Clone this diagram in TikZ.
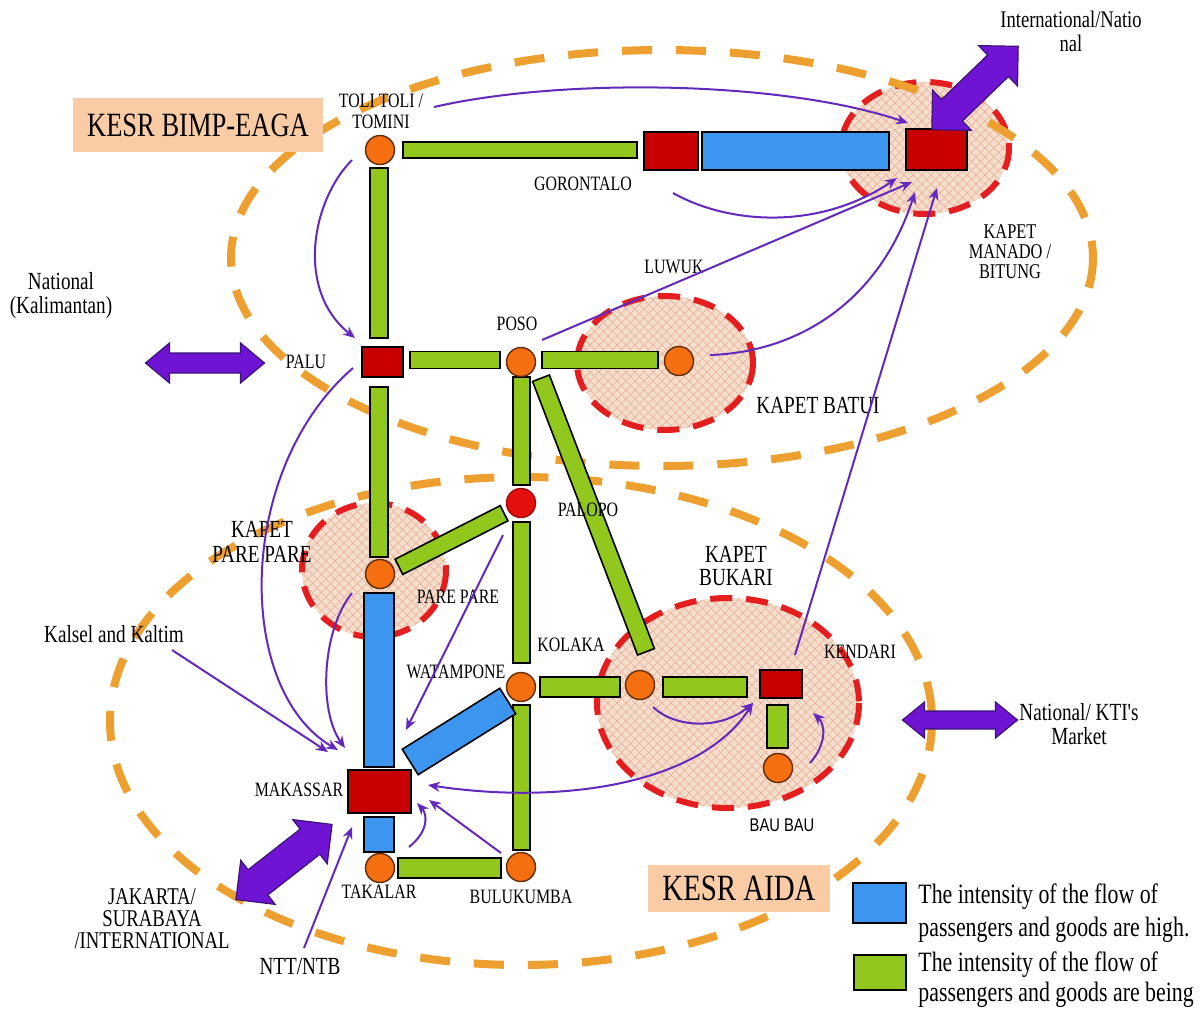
\documentclass[tikz,border=0pt]{standalone}
\usepackage{fontspec}
\setmainfont{Liberation Serif}
\newfontfamily\labf[FakeStretch=0.78]{Liberation Serif}
\newfontfamily\labs[FakeStretch=0.8]{Liberation Sans}
\usetikzlibrary{arrows.meta}
\definecolor{orng}{RGB}{237,160,48}
\definecolor{reddsh}{RGB}{228,30,30}
\definecolor{peachf}{RGB}{246,222,205}
\definecolor{hatchc}{RGB}{232,172,148}
\definecolor{grn}{RGB}{146,200,30}
\definecolor{blu}{RGB}{60,150,240}
\definecolor{redsq}{RGB}{200,0,0}
\definecolor{orc}{RGB}{245,110,15}
\definecolor{palred}{RGB}{230,15,15}
\definecolor{purp}{RGB}{100,40,190}
\definecolor{arrfill}{RGB}{110,20,210}
\definecolor{arrline}{RGB}{60,20,120}
\definecolor{boxpeach}{RGB}{250,204,166}
\newcommand\hatchell[4]{%
  \begin{scope}
    \clip (#1,#2) ellipse [x radius=#3, y radius=#4];
    \fill[peachf] (#1,#2) ellipse [x radius=#3, y radius=#4];
    \foreach \k in {-300,-291,...,300} {
      \draw[hatchc,line width=0.3pt] (#1+\k-170,#2-170) -- (#1+\k+170,#2+170);
      \draw[hatchc,line width=0.3pt] (#1+\k-170,#2+170) -- (#1+\k+170,#2-170);
    }
  \end{scope}
  \draw[reddsh,line width=3pt,dash pattern=on 11pt off 7pt] (#1,#2) ellipse [x radius=#3, y radius=#4];
}
\tikzset{
  pics/dblarr/.style n args={4}{code={%
    \draw[fill=arrfill,draw=arrline,line width=0.6pt,line join=miter]
      (-#1/2,0) -- (-#1/2+#4,#3) -- (-#1/2+#4,#2) -- (#1/2-#4,#2) -- (#1/2-#4,#3)
      -- (#1/2,0) -- (#1/2-#4,-#3) -- (#1/2-#4,-#2) -- (-#1/2+#4,-#2) -- (-#1/2+#4,-#3) -- cycle;
  }}
}
\begin{document}
\begin{tikzpicture}[x=0.5pt,y=-0.5pt,
  gbar/.style={draw=black,line width=0.8pt,fill=grn,inner sep=0pt,outer sep=0pt},
  bbar/.style={gbar,fill=blu},
  rsq/.style={gbar,fill=redsq},
  city/.style={circle,draw=black!60!orc,line width=0.7pt,fill=orc,minimum size=14.5pt,inner sep=0pt,outer sep=0pt},
  lbl/.style={font=\labf\fontsize{10.2}{10.5}\selectfont,inner sep=0pt,align=center,text=black},
  biglbl/.style={font=\labf\fontsize{12.3}{12}\selectfont,inner sep=0pt,align=center},
  extlbl/.style={font=\labf\fontsize{12.3}{12}\selectfont,inner sep=0pt,align=center},
  kesrbox/.style={fill=boxpeach,inner sep=0pt},
  legtxt/.style={font=\labf\fontsize{14}{16.5}\selectfont,inner sep=0pt,anchor=west,align=left},
  odash/.style={draw=orng,line width=4pt,dash pattern=on 15pt off 12pt},
  flow/.style={draw=purp,line width=1pt,-{Stealth[length=6pt,width=5pt]}},
  flow2/.style={draw=purp,line width=1pt,{Stealth[length=6pt,width=5pt]}-{Stealth[length=6pt,width=5pt]}}
]
\useasboundingbox (0,0) rectangle (1200,1008);
\fill[white] (0,0) rectangle (1200,1008);

% KAPET zones
\hatchell{925}{148}{84}{66}
\hatchell{665}{363}{88}{67}
\hatchell{374}{570}{72}{67}
\hatchell{728}{703}{131}{105}

% KESR zones
\draw[odash] (662,258) ellipse [x radius=431, y radius=208];
\draw[odash] (521,721) ellipse [x radius=411, y radius=244];

% zone labels
\node[kesrbox,minimum width=125pt,minimum height=27pt,font=\labf\fontsize{17}{17}\selectfont] (kesrA) at (198,125) {KESR BIMP-EAGA};
\node[kesrbox,minimum width=91pt,minimum height=23.5pt,font=\labf\fontsize{18.5}{18}\selectfont] (kesrB) at (739,888.5) {KESR AIDA};

% green links
\node[gbar,minimum width=117pt,minimum height=8pt] (g1) at (520,150) {};
\node[gbar,minimum width=9pt,minimum height=85pt] (g2) at (379,253) {};
\node[gbar,minimum width=45pt,minimum height=8.5pt] (g3) at (455,360) {};
\node[gbar,minimum width=58pt,minimum height=8.5pt] (g4) at (600,360) {};
\node[gbar,minimum width=9pt,minimum height=85pt] (g5) at (379,472) {};
\node[gbar,minimum width=8.5pt,minimum height=54pt] (g6) at (521.5,431) {};
\node[gbar,minimum width=8.5pt,minimum height=70.5pt] (g7) at (521.5,592.5) {};
\node[gbar,minimum width=40pt,minimum height=10pt] (g8) at (580,687) {};
\node[gbar,minimum width=42pt,minimum height=10pt] (g9) at (705,687) {};
\node[gbar,minimum width=10.5pt,minimum height=21.5pt] (g10) at (777.5,726.5) {};
\node[gbar,minimum width=8.5pt,minimum height=72.5pt] (g11) at (521.5,777.5) {};
\node[gbar,minimum width=51.5pt,minimum height=10pt] (g12) at (449.5,868) {};
\node[gbar,minimum width=59pt,minimum height=8.5pt,rotate=27] (g13) at (451.5,540) {};
\node[gbar,minimum width=146.5pt,minimum height=9pt,rotate=-69] (g14) at (593.5,515) {};

% blue links
\node[bbar,minimum width=93.5pt,minimum height=19pt] (b1) at (795.5,151) {};
\node[bbar,minimum width=15pt,minimum height=87pt] (b2) at (379,680) {};
\node[bbar,minimum width=15pt,minimum height=17.5pt] (b3) at (379,834.5) {};
\node[bbar,minimum width=57.5pt,minimum height=15pt,rotate=32] (b4) at (459,731.5) {};

% main centres
\node[rsq,minimum width=27pt,minimum height=19pt] (gorontalo) at (671,151) {};
\node[rsq,minimum width=30.5pt,minimum height=20.5pt] (manado) at (936.5,149.5) {};
\node[rsq,minimum width=20.5pt,minimum height=15pt] (palu) at (382.5,362) {};
\node[rsq,minimum width=31.5pt,minimum height=21.5pt] (makassar) at (379.5,791.5) {};
\node[rsq,minimum width=21pt,minimum height=14pt] (kendari) at (781,684) {};

% towns
\node[city] (toli) at (380,150) {};
\node[city] (poso) at (521,362) {};
\node[city] (batui) at (679,361) {};
\node[city] (pare) at (380,574) {};
\node[city] (watampone) at (521,687) {};
\node[city] (kolaka) at (640,685) {};
\node[city] (baubau) at (778,768) {};
\node[city] (takalar) at (380,868) {};
\node[city] (bulukumba) at (521,867) {};
\node[city,fill=palred,draw=palred!70!black] (palopo) at (521,503) {};

% big double arrows
\pic (arrKal) at (205,363) {dblarr={119}{10}{20}{24}};
\pic (arrKTI) at (960,720) {dblarr={115}{9}{18}{22}};
\pic[rotate=44] (arrInt) at (975,88) {dblarr={120}{15}{28}{28}};
\pic[rotate=38] (arrJkt) at (284,862) {dblarr={122}{16}{28}{28}};

% labels
\node[lbl] (tTol) at (381,111.5) {TOLI TOLI /\\TOMINI};
\node[lbl] (tGor) at (583,184) {GORONTALO};
\node[lbl] (tPalu) at (306,362) {PALU};
\node[lbl] (tPoso) at (517,324) {POSO};
\node[lbl] (tLuwuk) at (674,267) {LUWUK};
\node[lbl] (tPalopo) at (588,510) {PALOPO};
\node[lbl] (tPare) at (458,597) {PARE PARE};
\node[lbl] (tKolaka) at (571,645) {KOLAKA};
\node[lbl] (tWat) at (456,672) {WATAMPONE};
\node[lbl] (tKen) at (860,652) {KENDARI};
\node[lbl] (tMak) at (299,790) {MAKASSAR};
\node[lbl] (tTak) at (379,892) {TAKALAR};
\node[lbl] (tBul) at (521,897) {BULUKUMBA};
\node[lbl,font=\labs\fontsize{9.2}{10}\selectfont] (tBau) at (782,825) {BAU BAU};
\node[lbl,font=\labf\fontsize{10.5}{10}\selectfont] (tMan) at (1010,252) {KAPET\\MANADO /\\BITUNG};
\node[biglbl] (tBatui) at (818,405) {KAPET BATUI};
\node[biglbl,font=\labf\fontsize{12.3}{12.5}\selectfont] (tKpare) at (262,542) {KAPET\\PARE PARE};
\node[biglbl,font=\labf\fontsize{12.3}{11.5}\selectfont] (tBuk) at (736,566) {KAPET\\BUKARI};
\node[extlbl,font=\labf\fontsize{11.9}{12}\selectfont] (tInt) at (1071,31) {International/Natio\\nal};
\node[extlbl] (tKal) at (61,296) {National\\(Kalimantan)};
\node[extlbl] (tKalsel) at (114,634) {Kalsel and Kaltim};
\node[extlbl] (tKTI) at (1079,724) {National/ KTI's\\Market};
\node[extlbl,font=\labf\fontsize{12}{11}\selectfont] (tJkt) at (152,919) {JAKARTA/\\SURABAYA\\/INTERNATIONAL};
\node[extlbl] (tNtt) at (300,966) {NTT/NTB};

% legend
\node[bbar,minimum width=26.5pt,minimum height=20pt] (legB) at (879.5,903) {};
\node[gbar,minimum width=26pt,minimum height=17.5pt] (legG) at (880,972.5) {};
\node[legtxt] (legBt) at (918,913) {The intensity of the flow of\\passengers and goods are high.};
\node[legtxt,font=\labf\fontsize{14}{15}\selectfont,anchor=base west] (legGt) at (918,1001) {passengers and goods are being};
\node[legtxt,font=\labf\fontsize{14}{15}\selectfont,anchor=base west] (legGt1) at (918,971) {The intensity of the flow of};

% flows
\coordinate (f1a) at (434,107); \coordinate (f1b) at (908,123);
\coordinate (f2a) at (352,160); \coordinate (f2b) at (355,338);
\coordinate (f3a) at (673,193); \coordinate (f3b) at (897,178);
\coordinate (f4a) at (542,340); \coordinate (f4b) at (912,182);
\coordinate (f5a) at (710,355); \coordinate (f5b) at (915,192);
\coordinate (f6a) at (795,655); \coordinate (f6b) at (937,188);
\coordinate (f7a) at (353,368); \coordinate (f7b) at (338,750);
\coordinate (f8a) at (352,593); \coordinate (f8b) at (345,748);
\coordinate (f9a) at (172,650); \coordinate (f9b) at (328,752);
\coordinate (f10a) at (503,535); \coordinate (f10b) at (406,730);
\coordinate (f11a) at (304,948); \coordinate (f11b) at (352,827);
\coordinate (f12a) at (501,853); \coordinate (f12b) at (429,800);
\coordinate (f13a) at (409,847); \coordinate (f13b) at (417,803);
\coordinate (f14a) at (428,785); \coordinate (f14b) at (753,703);
\coordinate (f15a) at (653,707);
\coordinate (f16a) at (810,763); \coordinate (f16b) at (813,713);

\draw[flow] (f1a) .. controls (560,78) and (780,80) .. (f1b);
\draw[flow] (f2a) .. controls (312,200) and (295,290) .. (f2b);
\draw[flow] (f3a) .. controls (730,225) and (820,230) .. (f3b);
\draw[flow] (f4a) -- (f4b);
\draw[flow] (f5a) .. controls (800,352) and (880,300) .. (f5b);
\draw[flow] (f6a) -- (f6b);
\draw[flow] (f7a) .. controls (235,470) and (235,690) .. (f7b);
\draw[flow] (f8a) .. controls (322,630) and (318,710) .. (f8b);
\draw[flow] (f9a) -- (f9b);
\draw[flow] (f10a) -- (f10b);
\draw[flow] (f11a) -- (f11b);
\draw[flow] (f12a) -- (f12b);
\draw[flow] (f13a) .. controls (428,832) and (428,815) .. (f13b);
\draw[flow2] (f14a) .. controls (560,805) and (700,785) .. (f14b);
\draw[flow] (f15a) .. controls (675,728) and (720,730) .. (f14b);
\draw[flow] (f16a) .. controls (826,745) and (826,725) .. (f16b);
\end{tikzpicture}
\end{document}
